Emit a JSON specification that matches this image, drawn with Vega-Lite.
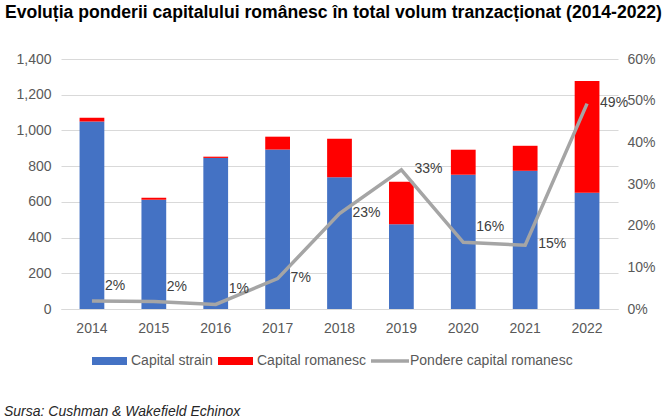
{
  "$schema": "https://vega.github.io/schema/vega-lite/v6.json",
  "background": "white",
  "padding": {"left": 3, "top": 4, "right": 5, "bottom": 2},
  "title": {"text": "Sursa: Cushman & Wakefield Echinox", "orient": "bottom", "anchor": "start", "dx": -1, "font": "Liberation Sans", "fontSize": 14, "fontStyle": "italic", "fontWeight": "normal", "color": "#262626", "offset": 37},
  "config": {
    "font": "Liberation Sans",
    "view": {"stroke": null},
    "axis": {"labelFont": "Liberation Sans", "labelFontSize": 14, "labelColor": "#595959", "domain": false, "ticks": false, "grid": false},
    "legend": {"orient": "none", "legendX": 31, "legendY": 292, "direction": "horizontal", "labelFont": "Liberation Sans", "labelFontSize": 14, "labelColor": "#595959", "labelLimit": 400, "symbolSize": 400, "labelOffset": 19, "columnPadding": 5}
  },
  "vconcat": [
    {
      "title": {"text": "Evoluția ponderii capitalului românesc în total volum tranzacționat (2014-2022)", "anchor": "start", "frame": "bounds", "dx": -11, "font": "Liberation Sans", "fontSize": 17.6, "fontWeight": "bold", "color": "#000000", "offset": 30},
      "width": 557,
      "height": 250,
      "data": {"values": [
        {"year": "2014", "Capital strain": 1050, "Capital romanesc": 21, "pct": 0.019},
        {"year": "2015", "Capital strain": 612, "Capital romanesc": 11, "pct": 0.018},
        {"year": "2016", "Capital strain": 846, "Capital romanesc": 7, "pct": 0.011},
        {"year": "2017", "Capital strain": 893, "Capital romanesc": 72, "pct": 0.073},
        {"year": "2018", "Capital strain": 738, "Capital romanesc": 215, "pct": 0.229},
        {"year": "2019", "Capital strain": 474, "Capital romanesc": 239, "pct": 0.334},
        {"year": "2020", "Capital strain": 752, "Capital romanesc": 140, "pct": 0.16},
        {"year": "2021", "Capital strain": 774, "Capital romanesc": 140, "pct": 0.153},
        {"year": "2022", "Capital strain": 651, "Capital romanesc": 626, "pct": 0.493}
      ]},
      "encoding": {
        "x": {"field": "year", "type": "ordinal", "title": null, "scale": {"paddingInner": 0.6, "paddingOuter": 0.3}, "axis": {"labelAngle": 0, "labelPadding": 12, "domain": true, "domainColor": "#D9D9D9"}}
      },
      "layer": [
        {
          "transform": [{"fold": ["Capital strain", "Capital romanesc"], "as": ["series", "value"]}],
          "mark": {"type": "bar"},
          "encoding": {
            "y": {"field": "value", "type": "quantitative", "stack": "zero", "title": null, "scale": {"domain": [0, 1400]}, "axis": {"values": [0, 200, 400, 600, 800, 1000, 1200, 1400], "format": ",.0f", "grid": true, "gridColor": "#D9D9D9", "labelPadding": 10}},
            "color": {"field": "series", "type": "nominal", "scale": {"domain": ["Capital strain", "Capital romanesc", "Pondere capital romanesc"], "range": ["#4472C4", "#FF0000", "#A5A5A5"]},
              "legend": {"title": null, "encode": {"symbols": {"update": {
                "shape": {"signal": "datum.value === 'Pondere capital romanesc' ? 'M-1,-0.17H2.8V0.17H-1Z' : 'M-1,-0.4H2.5V0.4H-1Z'"},
                "fill": {"scale": "color", "field": "value"},
                "stroke": {"value": "transparent"},
                "strokeWidth": {"value": 0},
                "opacity": {"value": 1}
              }}}}},
            "order": {"field": "series", "sort": "descending"}
          }
        },
        {
          "layer": [
            {
              "mark": {"type": "line", "strokeWidth": 3.5},
              "encoding": {
                "y": {"field": "pct", "type": "quantitative", "title": null, "scale": {"domain": [0, 0.6]}, "axis": {"orient": "right", "format": ".0%", "values": [0, 0.1, 0.2, 0.3, 0.4, 0.5, 0.6], "labelPadding": 9}},
                "color": {"datum": "Pondere capital romanesc"}
              }
            },
            {
              "transform": [{"filter": {"field": "year", "oneOf": ["2014", "2015", "2016", "2020"]}}],
              "mark": {"type": "text", "align": "left", "baseline": "middle", "dx": 13, "dy": -15, "fontSize": 14, "color": "#404040"},
              "encoding": {
                "y": {"field": "pct", "type": "quantitative"},
                "text": {"field": "pct", "type": "quantitative", "format": ".0%"}
              }
            },
            {
              "transform": [{"filter": {"not": {"field": "year", "oneOf": ["2014", "2015", "2016", "2020"]}}}],
              "mark": {"type": "text", "align": "left", "baseline": "middle", "dx": 13, "dy": -1, "fontSize": 14, "color": "#404040"},
              "encoding": {
                "y": {"field": "pct", "type": "quantitative"},
                "text": {"field": "pct", "type": "quantitative", "format": ".0%"}
              }
            }
          ]
        }
      ],
      "resolve": {"scale": {"y": "independent"}}
    }
  ]
}
